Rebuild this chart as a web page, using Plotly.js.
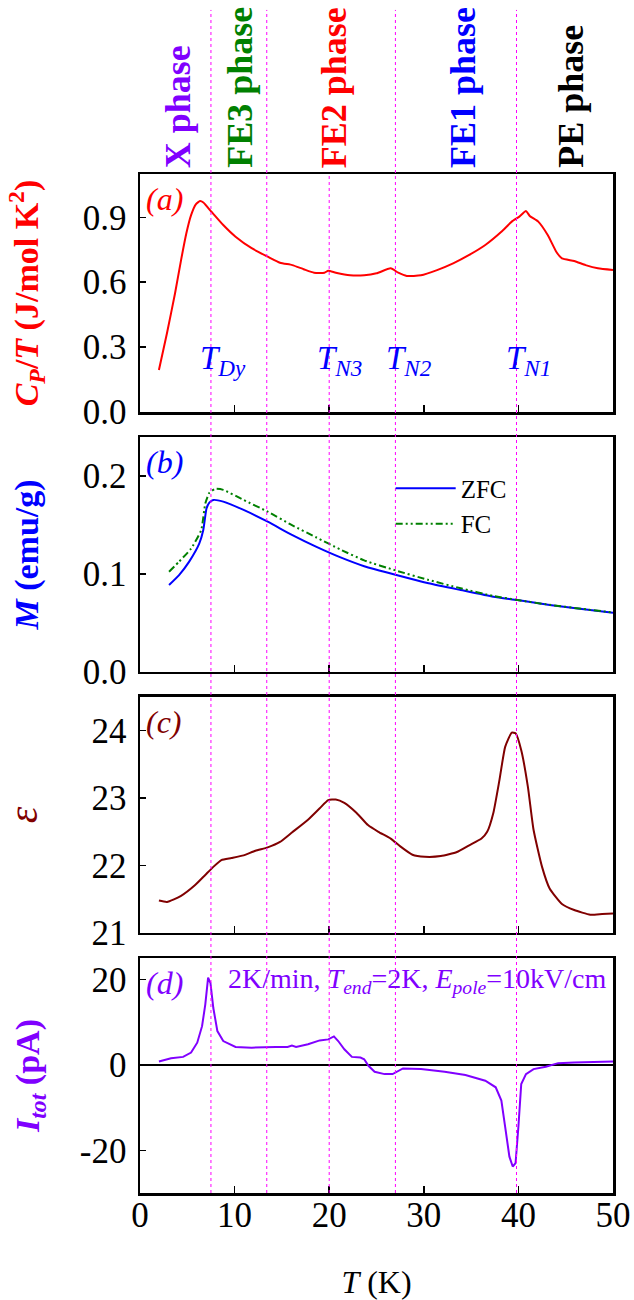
<!DOCTYPE html>
<html>
<head>
<meta charset="utf-8">
<script src="https://cdn.plot.ly/plotly-3.0.1.min.js"></script>
<style>html,body{margin:0;padding:0;background:#fff;}#chart{width:634px;height:1300px;}</style>
</head>
<body>
<div id="chart"></div>
<script>
// ---------- data ----------
// (a) specific heat Cp/T
var cpT = [2.0, 2.85, 3.7, 4.34, 4.9, 5.4, 5.9, 6.35, 6.7, 7.54, 8.8, 10.1, 11.8, 13.5, 14.8, 16.1, 17.3, 18.4, 19.5, 19.9, 20.7, 22.2, 23.7, 25.0, 26.5, 27.3, 28.2, 29.7, 31.4, 33.1, 34.8, 36.5, 38.2, 39.3, 40.1, 40.8, 41.2, 42.1, 43.1, 44.0, 44.6, 45.9, 47.1, 48.4, 50.0];
var cpVal = [0.194, 0.364, 0.548, 0.702, 0.826, 0.910, 0.960, 0.975, 0.968, 0.926, 0.864, 0.810, 0.757, 0.718, 0.690, 0.679, 0.660, 0.644, 0.644, 0.653, 0.644, 0.632, 0.632, 0.641, 0.664, 0.644, 0.629, 0.632, 0.656, 0.687, 0.726, 0.772, 0.833, 0.880, 0.903, 0.929, 0.906, 0.880, 0.818, 0.741, 0.710, 0.698, 0.679, 0.664, 0.656];
// (b) magnetization
var zfcT = [3.07, 4.13, 5.2, 6.26, 6.69, 7.03, 7.33, 7.75, 8.8, 10.95, 13.5, 16.06, 18.6, 21.2, 23.7, 27.1, 30.5, 33.9, 37.35, 39.9, 43.3, 46.7, 50.0];
var zfcM = [0.0889, 0.099, 0.1127, 0.131, 0.145, 0.167, 0.173, 0.1757, 0.174, 0.1655, 0.1535, 0.140, 0.128, 0.117, 0.108, 0.099, 0.0906, 0.0837, 0.0769, 0.0735, 0.0684, 0.0643, 0.0606];
var fcT = [3.07, 4.13, 5.4, 6.47, 6.9, 7.33, 7.96, 8.8, 10.95, 13.5, 16.06, 18.6, 21.2, 23.7, 27.1, 30.5, 33.9, 37.35, 39.9, 43.3, 46.7, 50.0];
var fcM = [0.1024, 0.1127, 0.126, 0.145, 0.172, 0.183, 0.187, 0.186, 0.1757, 0.1637, 0.150, 0.1376, 0.125, 0.114, 0.1035, 0.094, 0.0855, 0.0776, 0.0735, 0.0686, 0.0645, 0.0608];
// (c) dielectric constant
var epsT = [2.0, 2.85, 4.34, 5.83, 6.9, 7.75, 8.6, 9.67, 10.95, 12.2, 13.5, 14.8, 16.06, 17.76, 19.0, 19.9, 20.7, 21.6, 22.9, 24.1, 25.2, 26.5, 27.55, 28.8, 30.1, 31.8, 33.5, 34.8, 36.1, 36.7, 37.35, 38.0, 38.6, 39.3, 39.7, 40.3, 41.0, 41.6, 42.5, 43.3, 44.6, 45.9, 47.6, 48.85, 50.0];
var epsVal = [21.48, 21.46, 21.55, 21.71, 21.86, 21.98, 22.08, 22.11, 22.15, 22.22, 22.27, 22.35, 22.49, 22.68, 22.85, 22.97, 22.98, 22.93, 22.78, 22.60, 22.50, 22.40, 22.28, 22.16, 22.13, 22.14, 22.20, 22.30, 22.40, 22.50, 22.78, 23.27, 23.76, 23.97, 23.96, 23.71, 23.17, 22.53, 21.98, 21.66, 21.43, 21.34, 21.27, 21.28, 21.29];
// (d) pyroelectric current
var curT = [2.0, 3.28, 4.56, 5.4, 6.05, 6.56, 6.9, 7.2, 7.45, 7.75, 8.18, 8.8, 10.1, 11.8, 14.35, 15.6, 16.06, 16.5, 17.76, 19.0, 19.9, 20.5, 20.95, 21.6, 22.4, 23.3, 23.7, 24.15, 24.8, 25.85, 26.7, 27.3, 27.8, 29.7, 32.2, 34.4, 36.5, 37.6, 38.2, 38.6, 39.05, 39.4, 39.7, 40.0, 40.3, 40.8, 41.6, 42.9, 44.2, 45.9, 50.0];
var curI = [0.77, 1.55, 1.86, 2.86, 5.18, 9.05, 14.1, 20.4, 19.1, 13.3, 7.9, 5.57, 4.18, 4.02, 4.18, 4.18, 4.49, 4.18, 4.8, 5.72, 5.96, 6.65, 5.57, 3.63, 1.86, 1.7, 1.3, -0.23, -1.62, -2.17, -2.17, -1.55, -0.85, -1.0, -1.62, -2.4, -3.71, -5.26, -8.35, -14.5, -21.5, -23.8, -23.0, -14.5, -4.5, -2.17, -1.0, -0.46, 0.39, 0.54, 0.77];
// transition temperatures (dotted lines)
var transT = [7.5, 13.4, 20.0, 27.0, 39.8];
var transReachTop = [true, true, false, true, true];
// phase labels
var phaseNames = ['X phase', 'FE3 phase', 'FE2 phase', 'FE1 phase', 'PE phase'];
var phaseX = [4.1, 10.6, 20.6, 34.2, 45.6];
var phaseColors = ['#8000ff', '#008000', '#ff0000', '#0000ff', '#000000'];
// transition labels in (a)
var tLabels = ['<i>T</i><sub><i>Dy</i></sub>', '<i>T</i><sub><i>N3</i></sub>', '<i>T</i><sub><i>N2</i></sub>', '<i>T</i><sub><i>N1</i></sub>'];
var tLabelX = [6.1, 18.5, 25.8, 38.5];
// tick labels
var yTicksA = [0.0, 0.3, 0.6, 0.9];
var yTicksB = [0.0, 0.1, 0.2];
var yTicksC = [21, 22, 23, 24];
var yTicksD = [-20, 0, 20];
var yTickTextD = ['-20', '0', '20'];
var xTicks = [0, 10, 20, 30, 40, 50];

// ---------- layout helpers ----------
var SERIF = 'Liberation Serif, Times New Roman, DejaVu Serif, serif';
var RED = '#ff0000', BLUE = '#0000ff', GREEN = '#008000', DRED = '#800000', VIOLET = '#8000ff';

var doms = [[0.7664, 1.0], [0.5113, 0.7419], [0.2552, 0.4868], [0.0, 0.2306]];

function xax(anchor, labels) {
  return {
    domain: [0, 1], anchor: anchor, range: [0, 50], tickvals: xTicks,
    ticks: 'inside', ticklen: 7, tickwidth: 1.5, tickcolor: '#000',
    showline: true, linewidth: 2.5, linecolor: '#000', mirror: true,
    showgrid: false, zeroline: false, showticklabels: labels,
    tickfont: {family: SERIF, size: 35, color: '#000'},
    ticklabelstandoff: -11
  };
}
function yax(anchor, dom, range, tickvals, ticktext, fmt, title, tcolor, tsize, standoff, bold) {
  var o = {
    domain: dom, anchor: anchor, range: range, tickvals: tickvals,
    ticks: 'inside', ticklen: 6, tickwidth: 1.5, tickcolor: '#000',
    showline: true, linewidth: 2.5, linecolor: '#000', mirror: true,
    showgrid: false, zeroline: false,
    tickfont: {family: SERIF, size: 35, color: '#000'},
    ticklabelstandoff: 4,
    title: {text: title, font: {family: SERIF, size: tsize, color: tcolor, weight: bold ? 'bold' : 'normal'}, standoff: standoff}
  };
  if (ticktext) o.ticktext = ticktext;
  if (fmt) o.tickformat = fmt;
  return o;
}

var traces = [
  {x: cpT, y: cpVal, xaxis: 'x', yaxis: 'y', mode: 'lines', line: {color: RED, width: 2, shape: 'spline', smoothing: 0.5}, showlegend: false},
  {x: zfcT, y: zfcM, xaxis: 'x2', yaxis: 'y2', mode: 'lines', name: 'ZFC', line: {color: BLUE, width: 2, shape: 'spline', smoothing: 0.5}},
  {x: fcT, y: fcM, xaxis: 'x2', yaxis: 'y2', mode: 'lines', name: 'FC', line: {color: GREEN, width: 2, dash: '7px,3px,2px,3px,2px,3px', shape: 'spline', smoothing: 0.5}},
  {x: epsT, y: epsVal, xaxis: 'x3', yaxis: 'y3', mode: 'lines', line: {color: DRED, width: 2, shape: 'spline', smoothing: 0.5}, showlegend: false},
  {x: curT, y: curI, xaxis: 'x4', yaxis: 'y4', mode: 'lines', line: {color: VIOLET, width: 2}, showlegend: false}
];

var shapes = [];
for (var i = 0; i < transT.length; i++) {
  shapes.push({type: 'line', xref: 'x', yref: 'paper', x0: transT[i], x1: transT[i], y0: 0, y1: transReachTop[i] ? 1.161 : 1.0,
    line: {color: '#ff00ff', width: 1, dash: 'dot'}});
}

var ann = [];
for (var i = 0; i < phaseNames.length; i++) {
  ann.push({text: phaseNames[i], xref: 'x', yref: 'paper', x: phaseX[i], y: 1.004, xanchor: 'center', yanchor: 'bottom',
    textangle: -90, showarrow: false, font: {family: SERIF, size: 36, color: phaseColors[i], weight: 'bold'}});
}
for (var i = 0; i < tLabels.length; i++) {
  ann.push({text: tLabels[i], xref: 'x', yref: 'y', x: tLabelX[i], y: 0.24, xanchor: 'left', yanchor: 'middle',
    showarrow: false, font: {family: SERIF, size: 33, color: BLUE}});
}
var panelNames = ['(a)', '(b)', '(c)', '(d)'];
var panelColors = [RED, BLUE, DRED, VIOLET];
var panelRefs = [['x', 'y'], ['x2', 'y2'], ['x3', 'y3'], ['x4', 'y4']];
for (var i = 0; i < 4; i++) {
  ann.push({text: '<i>' + panelNames[i] + '</i>', xref: panelRefs[i][0] + ' domain', yref: panelRefs[i][1] + ' domain', x: 0.008, y: 0.895,
    xanchor: 'left', yanchor: 'middle', showarrow: false, font: {family: SERIF, size: 32, color: panelColors[i]}});
}
ann.push({text: '2K/min, <i>T</i><sub><i>end</i></sub>=2K, <i>E</i><sub><i>pole</i></sub>=10kV/cm', xref: 'x4', yref: 'y4', x: 9.1, y: 19.8,
  xanchor: 'left', yanchor: 'middle', showarrow: false, font: {family: SERIF, size: 28, color: VIOLET}});

var layout = {
  width: 634, height: 1300,
  margin: {l: 140, r: 21, t: 174, b: 107},
  paper_bgcolor: '#fff', plot_bgcolor: '#fff',
  font: {family: SERIF, color: '#000'},
  xaxis: xax('y', false),
  xaxis2: xax('y2', false),
  xaxis3: xax('y3', false),
  xaxis4: Object.assign(xax('y4', true), {title: {text: '<i>T</i> (K)', font: {family: SERIF, size: 32, color: '#000'}, standoff: 40}}),
  yaxis: yax('x', doms[0], [0, 1.1], yTicksA, null, '.1f', '<i>C</i><sub><i>P</i></sub>/<i>T</i> (J/mol K<sup>2</sup>)', RED, 34, 34, true),
  yaxis2: yax('x2', doms[1], [0, 0.24], yTicksB, null, '.1f', '<i>M</i> (emu/g)', BLUE, 34, 34, true),
  yaxis3: yax('x3', doms[2], [21, 24.5], yTicksC, null, null, '<i>ε</i>', DRED, 42, 44, false),
  yaxis4: Object.assign(yax('x4', doms[3], [-30, 25], yTicksD, yTickTextD, null, '<i>I</i><sub><i>tot</i></sub> (pA)', VIOLET, 34, 30, true), {zeroline: true, zerolinecolor: '#000', zerolinewidth: 1.5}),
  showlegend: true,
  legend: {x: 0.53, y: 0.714, xanchor: 'left', yanchor: 'top', bgcolor: 'rgba(0,0,0,0)', itemwidth: 60,
    font: {family: SERIF, size: 25, color: '#000'}, tracegroupgap: 0},
  shapes: shapes,
  annotations: ann
};

Plotly.newPlot('chart', traces, layout, {staticPlot: true, displayModeBar: false});
</script>
</body>
</html>
